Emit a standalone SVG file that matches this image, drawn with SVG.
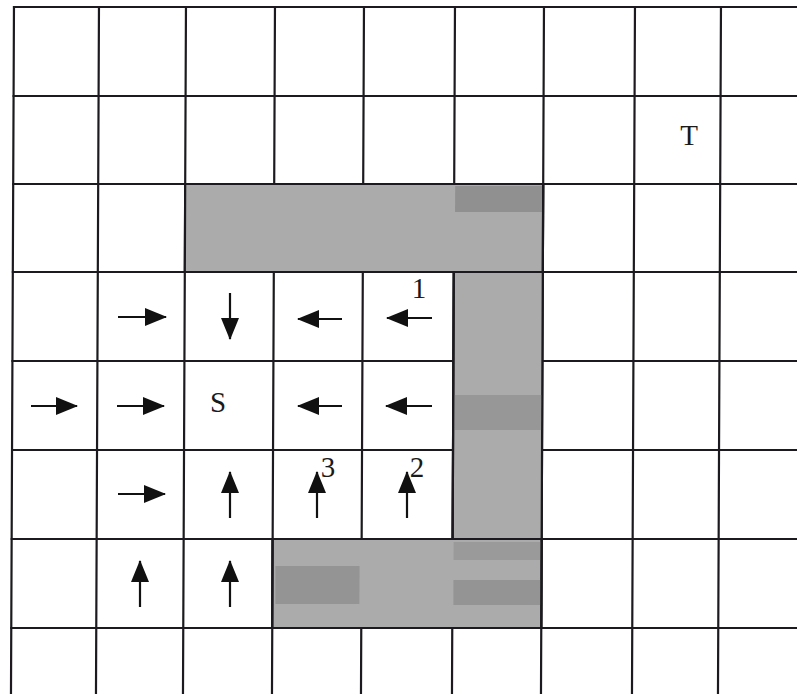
<svg xmlns="http://www.w3.org/2000/svg" width="797" height="694" viewBox="0 0 797 694">
<style>
.g{stroke:#1c1a1e;stroke-width:2.2;fill:none}
.ob{fill:#ababab;stroke:#1c1a1e;stroke-width:2.2}
.dk{fill:#8a8a8a}
.ar{stroke:#111;stroke-width:2.2;fill:none;marker-end:url(#h)}
.t{font-family:"Liberation Serif","Times New Roman",serif;font-size:29px;fill:#1a1a1a;text-anchor:middle}
</style>
<defs>
<marker id="h" viewBox="0 0 22 18" refX="21" refY="9" markerWidth="22" markerHeight="18" markerUnits="userSpaceOnUse" orient="auto">
<path d="M0,0 L22,9 L0,18 z" fill="#111"/>
</marker>
</defs>
<rect width="797" height="694" fill="#ffffff"/>
<g id="board" transform="skewX(-0.25)">
<g id="grid" class="g">
<path d="M14,6V694M99,6V694M186,6V694M275,6V694M364,6V694M455,6V694M544,6V694M635,6V694M721,6V694"/>
<path d="M13,7H800M13,96H800M13,184H800M13,272H800M13,361H800M13,450H800M13,539H800M13,628H800"/>
</g>
<g id="obstacles">
<rect class="ob" x="186" y="184" width="358" height="88"/>
<rect class="ob" x="455" y="272" width="89" height="267"/>
<rect class="ob" x="275" y="539" width="269" height="89"/>
<rect class="dk" x="456" y="186" width="87" height="26" opacity="0.8"/>
<rect class="dk" x="456" y="395" width="87" height="35" opacity="0.6"/>
<rect class="dk" x="278" y="566" width="84" height="38" opacity="0.7"/>
<rect class="dk" x="456" y="542" width="87" height="18" opacity="0.5"/>
<rect class="dk" x="456" y="580" width="87" height="25" opacity="0.7"/>
<path d="M186,184H544V272H455V539H544V628H275V539H455" class="g"/>
</g>
</g>
<g id="connectors">
<line class="ar" x1="118" y1="317" x2="166" y2="317"/>
<line class="ar" x1="31" y1="406" x2="77" y2="406"/>
<line class="ar" x1="117" y1="406" x2="164" y2="406"/>
<line class="ar" x1="118" y1="494" x2="165" y2="494"/>
<line class="ar" x1="342" y1="319" x2="298" y2="319"/>
<line class="ar" x1="432" y1="318" x2="387" y2="318"/>
<line class="ar" x1="342" y1="406" x2="298" y2="406"/>
<line class="ar" x1="432" y1="406" x2="386" y2="406"/>
<line class="ar" x1="230" y1="293" x2="230" y2="339"/>
<line class="ar" x1="230" y1="518" x2="230" y2="472"/>
<line class="ar" x1="317" y1="518" x2="317" y2="472"/>
<line class="ar" x1="407" y1="518" x2="407" y2="472"/>
<line class="ar" x1="140" y1="607" x2="140" y2="561"/>
<line class="ar" x1="230" y1="607" x2="230" y2="561"/>
</g>
<g id="labels">
<text class="t" x="218" y="412">S</text>
<text class="t" x="689" y="145">T</text>
<text class="t" x="419" y="298">1</text>
<text class="t" x="417" y="477">2</text>
<text class="t" x="328" y="477">3</text>
</g>
</svg>
